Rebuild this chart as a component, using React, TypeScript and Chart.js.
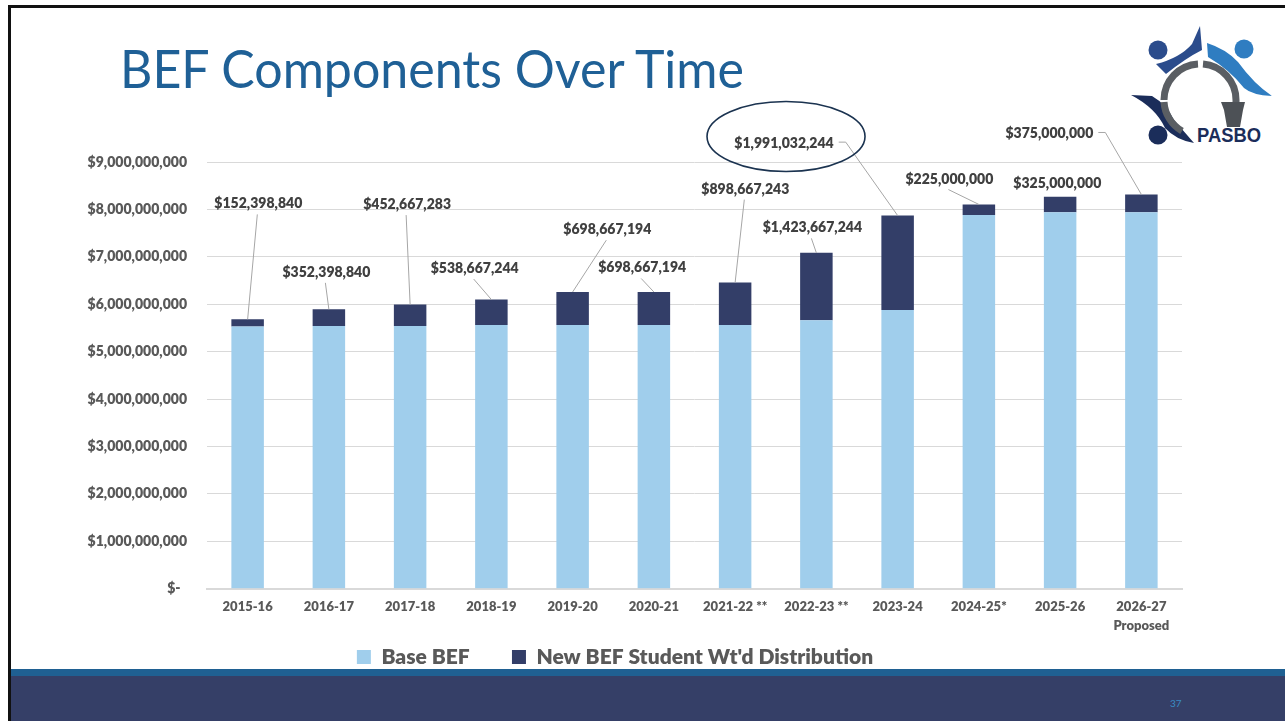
import React, { useEffect, useRef } from 'react';
import { Chart, registerables } from 'chart.js';

Chart.register(...registerables);

// ---------- data ----------
const categories: (string | string[])[] = [
  '2015-16', '2016-17', '2017-18', '2018-19', '2019-20', '2020-21',
  '2021-22 **', '2022-23 **', '2023-24', '2024-25*', '2025-26', ['2026-27', 'Proposed'],
];
const seriesNames = ['Base BEF', "New BEF Student Wt'd Distribution"];
const baseBEF = [
  5530000000, 5540000000, 5540000000, 5560000000, 5560000000, 5560000000,
  5560000000, 5660000000, 5880000000, 7880000000, 7940000000, 7940000000,
];
const newBEF = [
  152398840, 352398840, 452667283, 538667244, 698667194, 698667194,
  898667243, 1423667244, 1991032244, 225000000, 325000000, 375000000,
];
const yMin = 0;
const yMax = 9000000000;
const yStep = 1000000000;

// ---------- layout of the data labels (pixel offsets from the bar top) ----------
const labelOffsets: [number, number][] = [
  [10.7, -115.4], [-2.5, -37], [-3, -100], [-16.7, -31], [34.7, -62.3], [-11.7, -24],
  [10.2, -93.4], [-4, -25], [-113.6, -72.4], [-29.5, -25.4], [-2.8, -13], [-92, -61],
];
const circledIndex = 8;

// ---------- styles ----------
const COLOR_BASE = '#A0CEEC';
const COLOR_NEW = '#333E68';
const AXIS_TEXT = '#595959';
const LABEL_TEXT = '#404040';
const FONT = 'Lato, "Open Sans", sans-serif';

const money = (v: number) => '$' + Math.round(v).toLocaleString('en-US');

const dataLabelPlugin = {
  id: 'befDataLabels',
  afterDatasetsDraw(chart: any) {
    const ctx: CanvasRenderingContext2D = chart.ctx;
    const meta = chart.getDatasetMeta(1);
    ctx.save();
    ctx.font = `800 14px ${FONT}`;
    ctx.textAlign = 'center';
    ctx.textBaseline = 'middle';
    meta.data.forEach((bar: any, i: number) => {
      const x = bar.x;
      const y = bar.y;
      const [dx, dy] = labelOffsets[i];
      const cx = x + dx;
      const cy = y + dy;
      const text = money(newBEF[i]);
      const w = ctx.measureText(text).width;
      const left = cx - w / 2;
      const right = cx + w / 2;
      const gap = y - (cy + 8);
      if (gap > 8) {
        ctx.beginPath();
        ctx.strokeStyle = '#A6A6A6';
        ctx.lineWidth = 1;
        if (x > right + 10) {
          ctx.moveTo(right + 5, cy - 1);
          ctx.lineTo(right + 12, cy - 1);
          ctx.lineTo(x, y);
        } else if (x < left - 10) {
          ctx.moveTo(left - 5, cy - 1);
          ctx.lineTo(left - 12, cy - 1);
          ctx.lineTo(x, y);
        } else {
          ctx.moveTo(cx - 1, cy + 10.5);
          ctx.lineTo(x, y);
        }
        ctx.stroke();
      }
      ctx.fillStyle = LABEL_TEXT;
      ctx.fillText(text, cx, cy);
      if (i === circledIndex) {
        ctx.beginPath();
        ctx.strokeStyle = '#1B3350';
        ctx.lineWidth = 1.6;
        ctx.ellipse(cx + 2, cy - 6.6, 79, 35, 0, 0, Math.PI * 2);
        ctx.stroke();
      }
    });
    ctx.restore();
  },
};

function BefChart() {
  const ref = useRef<HTMLCanvasElement>(null);
  useEffect(() => {
    if (!ref.current) return;
    const defaultLabels = (Chart as any).defaults.plugins.legend.labels.generateLabels;
    const chart = new Chart(ref.current, {
      type: 'bar',
      data: {
        labels: categories as any,
        datasets: [
          { label: seriesNames[0], data: baseBEF, backgroundColor: COLOR_BASE, borderWidth: 0, barPercentage: 0.4, categoryPercentage: 1 },
          { label: seriesNames[1], data: newBEF, backgroundColor: COLOR_NEW, borderWidth: 0, barPercentage: 0.4, categoryPercentage: 1 },
        ],
      },
      options: {
        responsive: false,
        maintainAspectRatio: false,
        animation: false,
        layout: { padding: { left: 48, right: 103, top: 162, bottom: 43.5 } },
        plugins: {
          legend: {
            position: 'bottom',
            labels: {
              boxWidth: 14,
              boxHeight: 14,
              padding: 10.8,
              color: AXIS_TEXT,
              font: { family: FONT, weight: 800, size: 21 },
              generateLabels: (c: any) =>
                defaultLabels(c).map((l: any, i: number, all: any[]) =>
                  i < all.length - 1 ? { ...l, text: l.text + '\u2002\u2002\u2002' } : l,
                ),
            },
          },
          tooltip: { enabled: false },
        },
        scales: {
          x: {
            stacked: true,
            grid: { display: false, drawTicks: false },
            border: { display: true, color: '#D9D9D9', width: 2 },
            ticks: {
              padding: 9,
              color: AXIS_TEXT,
              autoSkip: false,
              maxRotation: 0,
              font: { family: FONT, weight: 800, size: 13, lineHeight: 1.45 },
            },
            afterFit: (s: any) => { s.height = 47; },
          },
          y: {
            stacked: true,
            min: yMin,
            max: yMax,
            grid: { color: '#D9D9D9', lineWidth: 1, drawTicks: false },
            border: { display: false },
            ticks: {
              stepSize: yStep,
              padding: 20,
              color: AXIS_TEXT,
              font: { family: FONT, weight: 800, size: 14 },
              callback: (v: any) => (Number(v) === 0 ? '$-  ' : money(Number(v))),
            },
            afterFit: (s: any) => { s.width = 159; },
          },
        },
      },
      plugins: [dataLabelPlugin],
    } as any);
    return () => chart.destroy();
  }, []);
  return (
    <canvas
      ref={ref}
      width={1285}
      height={721}
      style={{ position: 'absolute', left: 0, top: 0, width: 1285, height: 721 }}
    />
  );
}

function Slide() {
  const ring = '#5A5E63';
  return (
    <svg width={1285} height={721} style={{ position: 'absolute', left: 0, top: 0 }}>
      {/* frame */}
      <rect x={8} y={5} width={1277} height={3} fill="#111" />
      <rect x={8} y={5} width={3} height={716} fill="#111" />
      {/* footer */}
      <rect x={11} y={669} width={1274} height={7} fill="#1F6092" />
      <rect x={11} y={676} width={1274} height={45} fill="#353F67" />
      <text x={1170} y={707} fontSize={10} fill="#3A8CC4" fontFamily={FONT}>37</text>
      {/* title */}
      <text
        x={120}
        y={88}
        fontFamily={FONT}
        fontWeight={400}
        fontSize={53}
        fill="#1F6096"
        textLength={624}
        lengthAdjust="spacingAndGlyphs"
      >
        BEF Components Over Time
      </text>
      {/* logo */}
      <g>
        <circle cx={1158} cy={50} r={9.5} fill="#2B4C8C" />
        <path d="M1156,64 Q1180,58 1192,44 L1200,26 L1202,50 Q1186,58 1166,74 Z" fill="#2B4C8C" />
        <circle cx={1244} cy={49} r={9.5} fill="#2F7DC1" />
        <path d="M1207,43 Q1226,49 1238,62 Q1254,84 1272,96 Q1252,95 1244,88 Q1230,70 1208,57 Z" fill="#2F7DC1" />
        <circle cx={1158} cy={135} r={9.5} fill="#1B2D5A" />
        <path d="M1131,95 L1152,96 Q1166,104 1174,120 L1194,143 Q1176,140 1165,128 Q1156,108 1131,95 Z" fill="#1B2D5A" />
        <path d="M1164,100 A36,36 0 0 1 1198,64" stroke={ring} strokeWidth={7} fill="none" />
        <path d="M1182,131 A36,36 0 0 1 1164,102" stroke={ring} strokeWidth={7} fill="none" />
        <path d="M1203,64 A36,36 0 0 1 1236,100 L1236,104" stroke={ring} strokeWidth={7} fill="none" />
        <path d="M1221,102 L1245,102 L1243,110 L1240,127 L1227,127 L1224,110 Z" fill="#4D5156" />
        <text
          x={1197}
          y={142}
          fontFamily='"Liberation Sans Narrow", "Liberation Sans", sans-serif'
          fontWeight={700}
          fontSize={20}
          fill="#1B2D5A"
          textLength={64}
          lengthAdjust="spacingAndGlyphs"
        >
          PASBO
        </text>
      </g>
    </svg>
  );
}

export default function App() {
  return (
    <div
      style={{
        position: 'fixed',
        left: 0,
        top: 0,
        width: 1285,
        height: 721,
        background: '#fff',
        overflow: 'hidden',
      }}
    >
      <Slide />
      <BefChart />
    </div>
  );
}
